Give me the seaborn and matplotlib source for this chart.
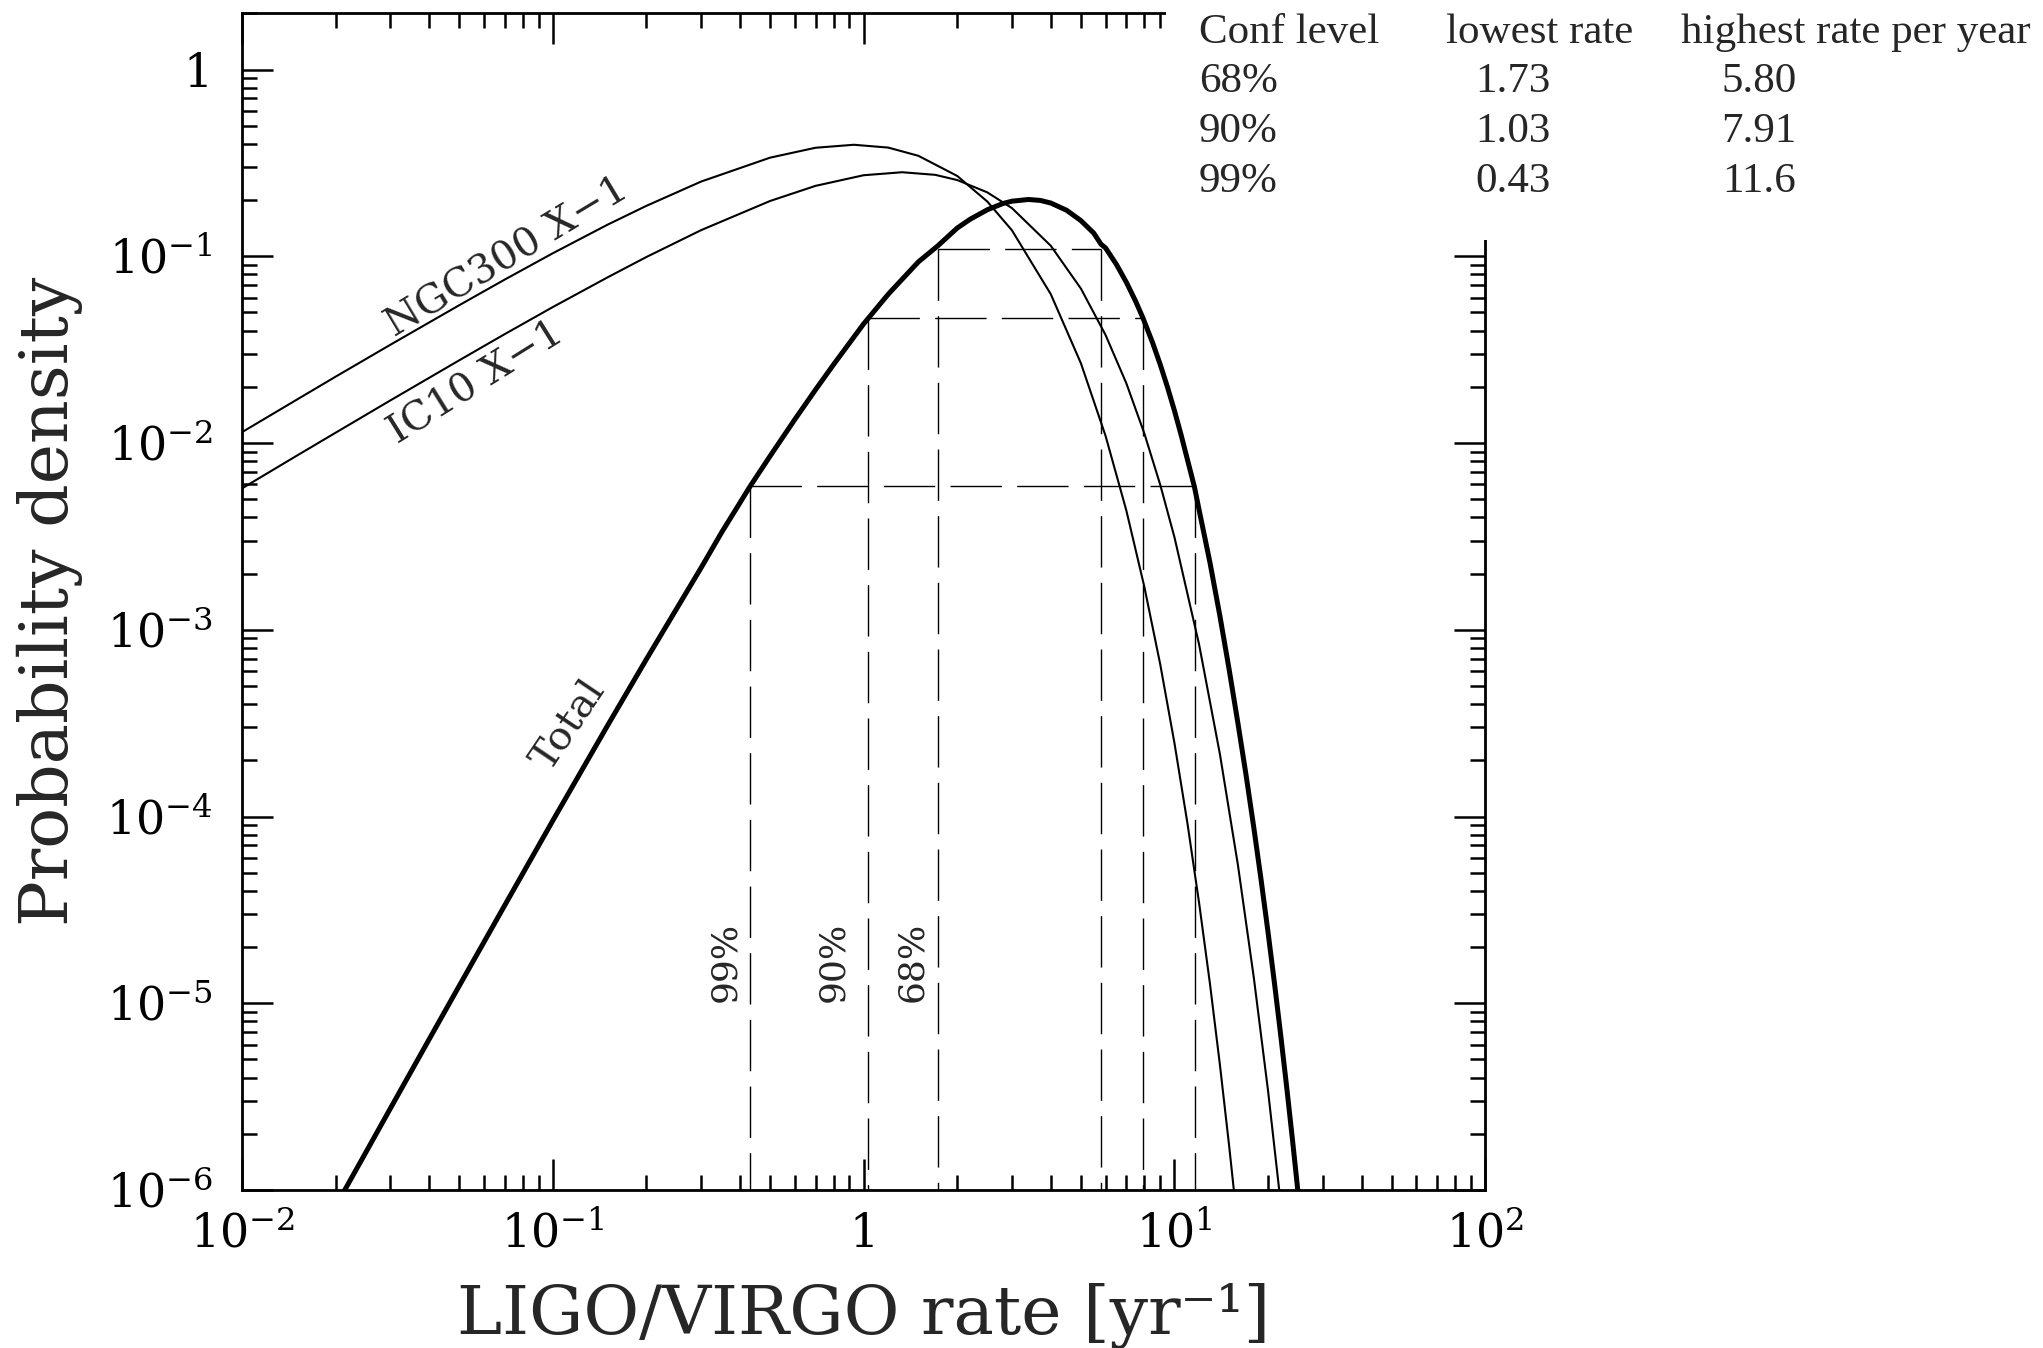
import math
import matplotlib
matplotlib.use('Agg')
import matplotlib.pyplot as plt
from matplotlib.ticker import FuncFormatter, FixedLocator, LogLocator, NullFormatter
from matplotlib.patches import Rectangle
import seaborn as sns

# probability density vs LIGO/VIRGO rate [yr^-1]
ngc_rate = [0.01, 0.015, 0.02, 0.03, 0.05, 0.07, 0.1, 0.15, 0.2, 0.3, 0.5, 0.7,
            0.93, 1.2, 1.5, 2, 2.5, 3, 4, 5, 6, 7, 8, 9, 10, 11, 12, 13, 14, 15, 16]
ngc_dens = [0.01143, 0.01706, 0.02265, 0.03357, 0.0547, 0.07499, 0.1038, 0.1476,
            0.1862, 0.2512, 0.3373, 0.3811, 0.3954, 0.3819, 0.3451, 0.2692, 0.1963,
            0.1377, 0.06266, 0.02673, 0.01094, 0.004355, 0.001698, 6.52e-4, 2.47e-4,
            9.27e-5, 3.45e-5, 1.28e-5, 4.69e-6, 1.71e-6, 6.24e-7]

ic10_rate = [0.01, 0.015, 0.02, 0.03, 0.05, 0.07, 0.1, 0.15, 0.2, 0.3, 0.5, 0.7,
             1.0, 1.33, 1.7, 2, 2.5, 3, 4, 5, 6, 7, 8, 9, 10, 12, 14, 16, 18, 20, 22]
ic10_dens = [0.005715, 0.008551, 0.01135, 0.0169, 0.02773, 0.03828, 0.05346,
             0.07709, 0.09908, 0.138, 0.1977, 0.2382, 0.2716, 0.2818, 0.2729, 0.2559,
             0.2198, 0.1811, 0.1138, 0.06714, 0.03793, 0.02089, 0.01125, 0.00597,
             0.003126, 8.34e-4, 2.16e-4, 5.5e-5, 1.37e-5, 3.4e-6, 8.3e-7]

total_rate = [0.02, 0.025, 0.03, 0.04, 0.05, 0.07, 0.1, 0.15, 0.2, 0.3, 0.35, 0.4,
              0.43, 0.5, 0.6, 0.7, 0.8, 1.0, 1.2, 1.5, 1.73, 2, 2.2, 2.5, 2.8, 3,
              3.39, 3.7, 4, 4.5, 5, 5.5, 5.8, 6, 6.5, 7, 7.5, 7.91, 8.5, 9, 9.5, 10,
              10.5, 11, 11.6, 12, 13, 14, 15, 16, 17, 18, 19, 20, 21, 22, 23, 24,
              25, 26]
total_dens = [8.17e-7, 1.585e-6, 2.73e-6, 6.41e-6, 1.24e-5, 3.34e-5, 9.51e-5,
              3.07e-4, 6.95e-4, 0.002148, 0.003342, 0.004786, 0.005821, 0.008511,
              0.01334, 0.01928, 0.0263, 0.04345, 0.06266, 0.09333, 0.1135, 0.1416,
              0.1578, 0.1774, 0.1914, 0.1972, 0.2014, 0.1991, 0.1928, 0.1762,
              0.1552, 0.133, 0.1161, 0.1109, 0.0906, 0.07261, 0.05741, 0.04688,
              0.03451, 0.0263, 0.01986, 0.01489, 0.01107, 0.008185, 0.0058,
              0.004385, 0.002301, 0.001186, 6.1e-4, 3.16e-4, 1.66e-4, 8.71e-5,
              4.57e-5, 2.4e-5, 1.26e-5, 6.61e-6, 3.47e-6, 1.82e-6, 9.55e-7, 5.01e-7]

# confidence intervals of the total rate
conf_levels = ['68%', '90%', '99%']
conf_low = [1.73, 1.03, 0.43]
conf_high = [5.80, 7.91, 11.6]
conf_dens = [0.109, 0.0466, 0.0059]
conf_low_txt = ['1.73', '1.03', '0.43']
conf_high_txt = ['5.80', '7.91', '11.6']

x_major = [1e-2, 1e-1, 1, 1e1, 1e2]
y_major = [1e-6, 1e-5, 1e-4, 1e-3, 1e-2, 1e-1, 1]

sns.set_theme(style='ticks')
plt.rcParams['font.family'] = ['DejaVu Serif']
plt.rcParams['mathtext.fontset'] = 'dejavuserif'

W, H = 2043, 1348
fig = plt.figure(figsize=(W / 100, H / 100), dpi=100)
fig.patch.set_facecolor('white')
ax = fig.add_axes([242 / W, 1 - 1190 / H, (1485.3 - 242) / W, (1190 - 13.3) / H])
ax.set_facecolor('white')
ax.set_xscale('log')
ax.set_yscale('log')

sns.lineplot(x=ngc_rate, y=ngc_dens, ax=ax, color='black', linewidth=1.5,
             estimator=None, sort=False)
sns.lineplot(x=ic10_rate, y=ic10_dens, ax=ax, color='black', linewidth=1.5,
             estimator=None, sort=False)
sns.lineplot(x=total_rate, y=total_dens, ax=ax, color='black', linewidth=3.6,
             estimator=None, sort=False)

ymin = 1e-6
for lo, hi, d in zip(conf_low, conf_high, conf_dens):
    kw = dict(color='black', linewidth=1.0, dashes=(37, 11))
    ax.plot([lo, hi], [d, d], **kw)
    ax.plot([lo, lo], [d, ymin], **kw)
    ax.plot([hi, hi], [d, ymin], **kw)

# level labels next to the lower bounds
for lab, xpos in zip(conf_levels, [1.43, 0.797, 0.358]):
    ax.text(xpos, 1.66e-5, lab, rotation=90, ha='center', va='center', fontsize=26)

ax.text(0.0713, 0.0989, 'NGC300 X\u22121', rotation=31, rotation_mode='anchor',
        ha='center', va='center', fontsize=29)
ax.text(0.057, 0.0209, 'IC10 X\u22121', rotation=32, rotation_mode='anchor',
        ha='center', va='center', fontsize=29)
ax.text(0.1127, 3.1e-4, 'Total', rotation=56, rotation_mode='anchor',
        ha='center', va='center', fontsize=29)

ax.set_xlim(1e-2, 1e2)
ax.set_ylim(ymin, 2.0)


def pow_fmt(v, pos):
    if v <= 0:
        return ''
    e = int(round(math.log10(v)))
    if e == 0:
        return '1'
    return r'$10^{%d}$' % e


ax.xaxis.set_major_locator(FixedLocator(x_major))
ax.yaxis.set_major_locator(FixedLocator(y_major))
for axis in (ax.xaxis, ax.yaxis):
    axis.set_minor_locator(LogLocator(base=10, subs=range(2, 10), numticks=20))
    axis.set_major_formatter(FuncFormatter(pow_fmt))
    axis.set_minor_formatter(NullFormatter())

ax.tick_params(which='both', direction='in', top=True, right=True, colors='black',
               labelsize=33, width=1.8)
ax.tick_params(which='major', length=22)
ax.tick_params(which='minor', length=11)
ax.tick_params(axis='x', pad=16)
ax.tick_params(axis='y', pad=21)
for sp in ax.spines.values():
    sp.set_linewidth(2.0)
    sp.set_color('black')

ax.set_xlabel('LIGO/VIRGO rate [yr\u207b\u00b9]', fontsize=49, labelpad=18)
ax.set_ylabel('Probability density', fontsize=49, labelpad=17)

# table pasted over the top right corner
fig.add_artist(Rectangle((1166 / W, 1 - 240 / H), 1 - 1166 / W, 240 / H,
                         transform=fig.transFigure, facecolor='white',
                         edgecolor='none', zorder=5))
tfont = dict(family='Liberation Serif', fontsize=31, zorder=6, va='baseline')
fig.text(1199 / W, 1 - 43 / H, 'Conf level', **tfont)
fig.text(1446 / W, 1 - 43 / H, 'lowest rate', **tfont)
fig.text(1681 / W, 1 - 43 / H, 'highest rate per year', **tfont)
for i, (lab, lo, hi) in enumerate(zip(conf_levels, conf_low_txt, conf_high_txt)):
    yb = 1 - (92.5 + 49.5 * i) / H
    fig.text(1199 / W, yb, lab, **tfont)
    fig.text(1513 / W, yb, lo, ha='center', **tfont)
    fig.text(1759 / W, yb, hi, ha='center', **tfont)

fig.savefig('out.png', dpi=100, facecolor='white')
